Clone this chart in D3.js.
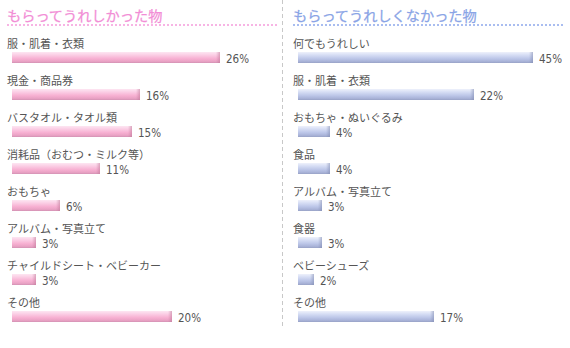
<!DOCTYPE html>
<html><head><meta charset="utf-8">
<script src="https://cdn.jsdelivr.net/npm/d3@7"></script>
<style>
html,body{margin:0;padding:0;background:#fff;}
svg{display:block;}
</style></head>
<body>
<svg id="chart" width="570" height="348"></svg>
<script>
const leftTitle = "もらってうれしかった物";
const leftCategories = ["服・肌着・衣類","現金・商品券","バスタオル・タオル類","消耗品（おむつ・ミルク等）","おもちゃ","アルバム・写真立て","チャイルドシート・ベビーカー","その他"];
const leftValues = [26,16,15,11,6,3,3,20];
const rightTitle = "もらってうれしくなかった物";
const rightCategories = ["何でもうれしい","服・肌着・衣類","おもちゃ・ぬいぐるみ","食品","アルバム・写真立て","食器","ベビーシューズ","その他"];
const rightValues = [45,22,4,4,3,3,2,17];

const svg = d3.select("#chart");
const defs = svg.append("defs");

function makeGrad(id, stops){
  const g = defs.append("linearGradient").attr("id", id).attr("x1",0).attr("y1",0).attr("x2",0).attr("y2",1);
  stops.forEach(s => g.append("stop").attr("offset", s[0]).attr("stop-color", s[1]));
}
makeGrad("pinkV", [[0,"#fde6f2"],[0.25,"#fbd0e6"],[0.6,"#f7b0d2"],[0.85,"#e9a2c4"],[1,"#d392b4"]]);
makeGrad("blueV", [[0,"#eef1fb"],[0.25,"#d8dff5"],[0.6,"#bcc6e8"],[0.85,"#a9b3d8"],[1,"#98a2c6"]]);
function makeCap(id, c){
  const g = defs.append("linearGradient").attr("id", id).attr("x1",0).attr("y1",0).attr("x2",1).attr("y2",0);
  g.append("stop").attr("offset",0).attr("stop-color",c).attr("stop-opacity",0);
  g.append("stop").attr("offset",1).attr("stop-color",c).attr("stop-opacity",0.55);
}
makeCap("pinkCap","#c07898");
makeCap("blueCap","#7f8ab0");

// vertical dashed separator
svg.append("line").attr("x1",282.5).attr("x2",282.5).attr("y1",0).attr("y2",326)
  .attr("stroke","#c8c8c8").attr("stroke-width",1).attr("stroke-dasharray","4,3");

// 8px per percent, widths capped at the column's maximum
const x = d3.scaleLinear().domain([0, 29.375]).range([0, 235]).clamp(true);
const rowY = d3.scaleLinear().domain([0,1]).range([52, 89]);

function panel(ox, title, titleColor, dotColor, cats, vals, grad, cap, lineEnd){
  const g = svg.append("g").attr("transform", `translate(${ox},0)`);
  g.append("text").attr("x",7).attr("y",21).text(title)
    .attr("font-family","'Noto Sans CJK JP', sans-serif").attr("font-size",14.2)
    .attr("fill",titleColor).attr("stroke",titleColor).attr("stroke-width",0.25);
  g.append("line").attr("x1",7).attr("x2",lineEnd).attr("y1",25).attr("y2",25)
    .attr("stroke",dotColor).attr("stroke-width",2).attr("stroke-dasharray","2,2");
  const rows = g.selectAll("g.row").data(cats.map((c,i)=>({c, v: vals[i], i})))
    .enter().append("g").attr("class","row")
    .attr("transform", d => `translate(0,${rowY(d.i)})`);
  rows.append("text").attr("x",7).attr("y",-4).text(d=>d.c)
    .attr("font-family","'Noto Sans CJK JP', sans-serif").attr("font-size",11)
    .attr("fill","#555");
  rows.append("rect").attr("x",12).attr("y",0).attr("height",11)
    .attr("width", d => x(d.v)).attr("fill",`url(#${grad})`);
  rows.append("rect").attr("x", d => 12 + x(d.v) - 4).attr("y",0).attr("height",11)
    .attr("width",4).attr("fill",`url(#${cap})`);
  rows.append("text").attr("x", d => 12 + x(d.v) + 6).attr("y",10.5)
    .text(d => d.v + "%")
    .attr("font-family","'Liberation Sans Narrow','DejaVu Sans Condensed',sans-serif")
    .attr("font-size",11.5).attr("fill","#555");
}
panel(0, leftTitle, "#f28ed6", "#f7b4e4", leftCategories, leftValues, "pinkV", "pinkCap", 278);
panel(286, rightTitle, "#8aa4e6", "#a9bdf0", rightCategories, rightValues, "blueV", "blueCap", 278);
</script>
</body></html>
